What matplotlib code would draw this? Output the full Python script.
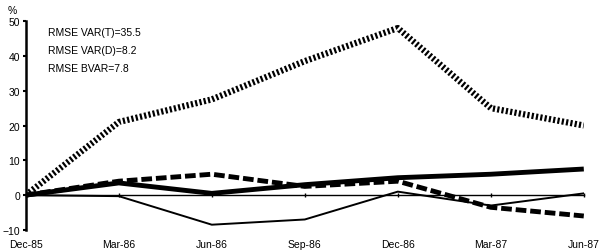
import matplotlib.pyplot as plt
import matplotlib.transforms as mtransforms

plt.rcParams['font.family'] = ['Liberation Sans', 'DejaVu Sans']

dates = ['Dec-85', 'Mar-86', 'Jun-86', 'Sep-86', 'Dec-86', 'Mar-87', 'Jun-87']
var_t = [0, 21, 27.5, 38.5, 48, 25, 20]      # hatched line
var_d = [0, 4, 6, 2.5, 4, -3.5, -6]          # dashed
bvar = [0, 3.5, 0.5, 3, 5, 6, 7.5]           # thick solid
actual = [0, -0.3, -8.5, -7, 1, -3, 0.5]     # thin solid
labels = ['RMSE VAR(T)=35.5', 'RMSE VAR(D)=8.2', 'RMSE BVAR=7.8']
yticks = [-10, 0, 10, 20, 30, 40, 50]

fig = plt.figure(figsize=(6, 2.51), dpi=100)
ax = fig.add_axes([0.043, 0.08, 0.93, 0.832])
x = list(range(len(dates)))

ax.plot(x, actual, color='black', lw=1.4, zorder=3)
ax.plot(x, bvar, color='black', lw=3.5, solid_capstyle='butt', zorder=4)
ax.plot(x, var_d, color='black', lw=3.5, linestyle=(0, (2.2, 0.8)), zorder=4)
ax.plot(x, var_t, color='black', lw=4.5, linestyle=(0, (0.35, 0.35)), zorder=4)

ax.set_xlim(0, 6)
ax.set_ylim(-10, 50)
ax.set_yticks(yticks)
ax.set_xticks(x)
ax.set_xticklabels([])
ax.spines['top'].set_visible(False)
ax.spines['right'].set_visible(False)
ax.spines['left'].set_linewidth(1.8)
ax.spines['bottom'].set_position(('data', 0))
ax.spines['bottom'].set_linewidth(1.0)
ax.tick_params(axis='y', length=2, width=1.5, labelsize=7.5, pad=2)
ax.tick_params(axis='x', length=3, width=1.0, direction='inout')

trans = mtransforms.blended_transform_factory(ax.transData, ax.transAxes)
for i, d in enumerate(dates):
    ax.text(i, -0.045, d, transform=trans, ha='center', va='top', fontsize=7.5)

ax.text(-0.025, 1.03, '%', transform=ax.transAxes, ha='center', va='bottom', fontsize=7.5)
for k, s in enumerate(labels):
    ax.text(0.04, 0.97 - k * 0.085, s, transform=ax.transAxes, ha='left', va='top', fontsize=7.5)

fig.savefig('out.png', dpi=100)
